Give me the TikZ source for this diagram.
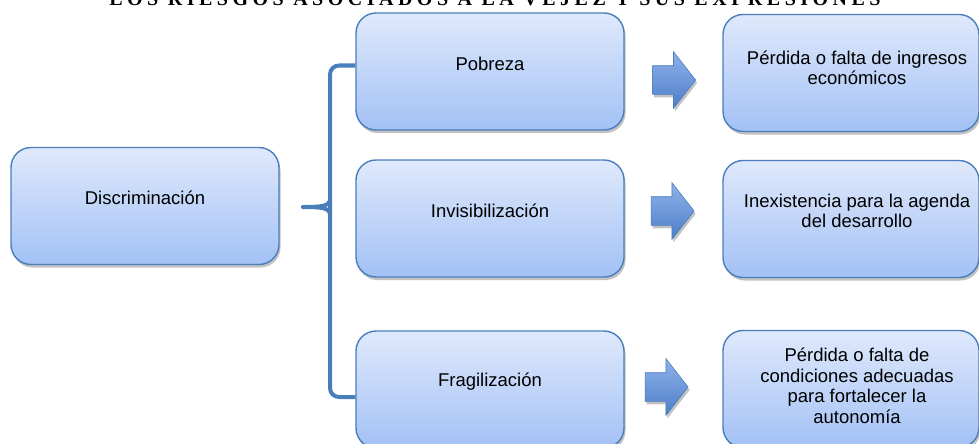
\documentclass[tikz,border=0pt]{standalone}
\usepackage{fontspec}
\setmainfont{Liberation Sans}
\newfontfamily\titlefont[LetterSpace=22.5]{Liberation Serif}
\usepackage{xcolor}
\usetikzlibrary{shapes.arrows}
\usetikzlibrary{shadows}
\usetikzlibrary{positioning}
\definecolor{boxtop}{HTML}{DFE9FC}
\definecolor{boxbot}{HTML}{A3C1F5}
\definecolor{boxline}{HTML}{4A7EBB}
\definecolor{arrtop}{HTML}{8FB3EA}
\definecolor{arrbot}{HTML}{4D7DC9}

\begin{document}
\begin{tikzpicture}[x=1pt,y=-1pt,
	riesgo/.style={draw=boxline, line width=1.4pt, rounded corners=20pt, top color=boxtop, bottom color=boxbot, minimum height=117pt, inner sep=0pt, drop shadow={shadow xshift=1.5pt, shadow yshift=-3pt, fill=black!40, opacity=0.6}},
	texto/.style={align=center, font=\fontsize{18.5}{20.5}\selectfont, inner sep=0pt},
	flecha/.style={single arrow, draw=boxline, line width=0.6pt, top color=arrtop, bottom color=arrbot, minimum height=43pt, minimum width=56pt, single arrow head extend=14pt, single arrow tip angle=104, inner xsep=0pt, inner ysep=14pt, drop shadow={shadow xshift=1.5pt, shadow yshift=-3pt, fill=black!40, opacity=0.6}},
	llave/.style={draw=boxline, line width=4pt}]
		\useasboundingbox (0,0) rectangle (979,444);
		\clip (0,0) rectangle (979,444);
		\node[anchor=base, font=\titlefont\bfseries\fontsize{20}{24}\selectfont] (titulo) at (495,6) {LOS RIESGOS ASOCIADOS A LA VEJEZ Y SUS EXPRESIONES};

		\node[riesgo, minimum width=268pt] (disc) at (145,206) {};
		\node[texto] (disct) at ([yshift=8pt]disc.center) {Discriminación};

		\node[riesgo, minimum width=268pt] (pob) at (490,71.5) {};
		\node[riesgo, minimum width=268pt] (invis) at (490,218.5) {};
		\node[riesgo, minimum width=268pt] (frag) at (490,389.5) {};
		\node[texto] (pobt) at ([yshift=8pt]pob.center) {Pobreza};
		\node[texto] (invist) at ([yshift=7.5pt]invis.center) {Invisibilización};
		\node[texto] (fragt) at ([yshift=7.5pt]frag.center) {Fragilización};

		\node[riesgo, minimum width=256pt] (ingr) at (851,73) {};
		\node[riesgo, minimum width=256pt] (agen) at (851,219) {};
		\node[riesgo, minimum width=256pt] (auto) at (851,389) {};
		\node[texto] (ingrt) at (857,68) {Pérdida o falta de ingresos\\económicos};
		\node[texto] (agent) at (857,211) {Inexistencia para la agenda\\del desarrollo};
		\node[texto] (autot) at (857,386) {Pérdida o falta de\\condiciones adecuadas\\para fortalecer la\\autonomía};

		\node[flecha] (f1) at (668.5,80) {};
		\node[flecha] (f2) at (667,211) {};
		\node[flecha] (f3) at (661,387) {};

		\coordinate (pico) at (303,207);
		\draw[llave, rounded corners=9pt] ([yshift=6pt]pob.west) -| (330,207) |- ([yshift=-7.5pt]frag.west);
		\draw[llave, line cap=round] (330,199) .. controls (330,206) and (322,207) .. (pico);
		\draw[llave, line cap=round] (330,215) .. controls (330,208) and (322,207) .. (pico);
	\end{tikzpicture}
\end{document}
